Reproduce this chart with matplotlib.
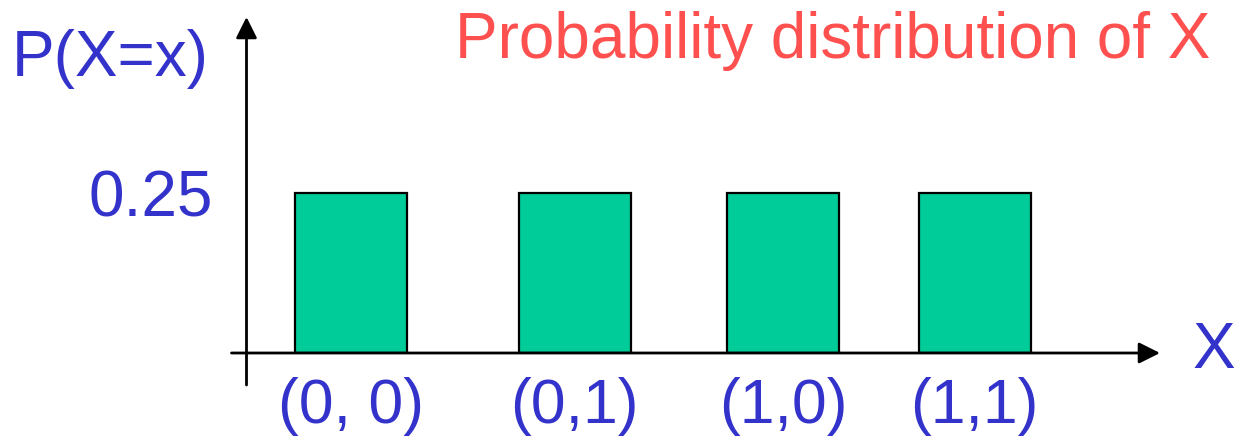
import matplotlib
matplotlib.use("Agg")
import matplotlib.pyplot as plt

plt.rcParams["font.family"] = ["Liberation Sans", "DejaVu Sans"]

# data
outcomes = ["(0, 0)", "(0,1)", "(1,0)", "(1,1)"]
probs = [0.25, 0.25, 0.25, 0.25]
ytick_vals = [0.25]
ytick_labels = ["0.25"]

# layout (bar centres in bar-width units, slightly uneven as in the slide)
x_pos = [0.93, 2.93, 4.79, 6.50]
bar_w = 1.0

BLUE = "#3333CC"
RED = "#FF5050"
GREEN = "#00CC99"

W, H = 1239, 441
fig = plt.figure(figsize=(W / 100, H / 100), dpi=100)

# axes origin at pixel (246.5, 353)
x0, y0 = 246.5, 353
ax = fig.add_axes([x0 / W, (H - y0) / H, (1160 - x0) / W, (y0 - 17) / H])
xmax = (1160 - x0) / 112
ymax = (y0 - 17) / 640
ax.set_xlim(0, xmax)
ax.set_ylim(0, ymax)
for s in ax.spines.values():
    s.set_visible(False)

ax.bar(x_pos, probs, width=bar_w, color=GREEN, edgecolor="black", linewidth=1.6, zorder=3)

# axis arrows
arrow = dict(arrowstyle="-|>,head_length=0.8,head_width=0.4", color="black", lw=2,
             shrinkA=0, shrinkB=0, mutation_scale=16)
ax.annotate("", xy=(xmax, 0), xytext=(-15 / 112, 0), arrowprops=arrow,
            annotation_clip=False, zorder=4)
ax.annotate("", xy=(0, ymax), xytext=(0, -32 / 640), arrowprops=arrow,
            annotation_clip=False, zorder=4)

ax.set_xticks(x_pos, outcomes)
ax.set_yticks(ytick_vals, ytick_labels)
ax.tick_params(axis="x", length=0, pad=17, labelsize=45, labelcolor=BLUE)
ax.tick_params(axis="y", length=0, pad=24, labelsize=46, labelcolor=BLUE)

fig.text(12 / W, 1 - 76 / H, "P(X=x)", color=BLUE, fontsize=46, ha="left", va="baseline")
fig.text(1193 / W, 1 - 368 / H, "X", color=BLUE, fontsize=46, ha="left", va="baseline")
fig.text(1210 / W, 1 - 58 / H, "Probability distribution of X", color=RED,
         fontsize=46, ha="right", va="baseline")

fig.savefig("out.png", dpi=100)
